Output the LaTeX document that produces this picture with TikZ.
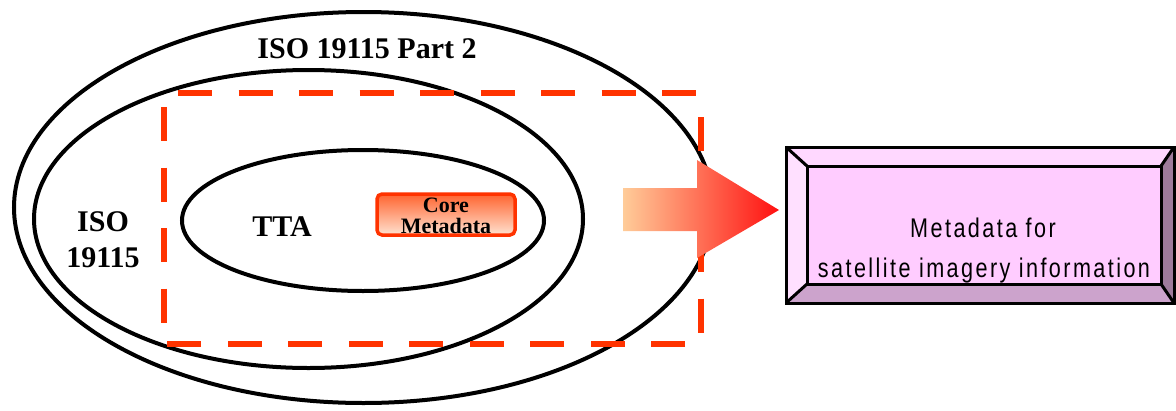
\documentclass[tikz,border=0pt]{standalone}
\usepackage{fontspec}
\setmainfont{Liberation Serif}
\newfontfamily\boxfont[FakeStretch=0.8,LetterSpace=9]{Liberation Sans}
\usetikzlibrary{shapes.geometric}

\definecolor{dashred}{HTML}{FF3300}
\definecolor{coretop}{HTML}{FF6430}
\definecolor{corebot}{HTML}{FFE2D0}
\definecolor{arrowlight}{HTML}{FFCC99}
\definecolor{arrowmid}{HTML}{FF9470}
\definecolor{arrowdark}{HTML}{FF1010}
\definecolor{bevelface}{HTML}{FFCCFF}
\definecolor{beveltop}{HTML}{FFD8FF}
\definecolor{bevelleft}{HTML}{FFE0FF}
\definecolor{bevelbottom}{HTML}{CCA3CC}
\definecolor{bevelright}{HTML}{9E7B9B}

\tikzset{
  ring/.style={ellipse, draw=black, line width=4pt, inner sep=0pt, outer sep=0pt},
  biglabel/.style={font=\fontsize{30}{32}\selectfont\bfseries, inner sep=0pt, anchor=base},
  scopeline/.style={draw=dashred, line width=6.5pt, dash pattern=on 34pt off 26.5pt},
  corebox/.style={rectangle, rounded corners=5pt, draw=dashred, line width=3.5pt,
    top color=coretop, bottom color=corebot, minimum width=138pt, minimum height=41pt},
  coretext/.style={inner sep=0pt, anchor=base, font=\fontsize{22}{22}\selectfont\bfseries},
  bevel/.style={draw=black, line width=3pt, line join=miter},
  boxtext/.style={font=\fontsize{27}{29}\boxfont, inner sep=0pt, anchor=base}
}

\begin{document}
\begin{tikzpicture}[x=1pt, y=-1pt]
  \useasboundingbox (0,0) rectangle (1176,410);

  % nested standards
  \node[ring, minimum width=699pt, minimum height=391pt] (part2) at (363.5,207.5) {};
  \node[ring, minimum width=549pt, minimum height=298pt] (iso) at (308.5,219) {};
  \node[ring, minimum width=362pt, minimum height=141pt] (tta) at (363,220.5) {};

  \node[biglabel] (part2label) at (367,58) {ISO 19115 Part 2};
  \node[biglabel] (isolabelA) at (103,231) {ISO};
  \node[biglabel] (isolabelB) at (103,267) {19115};
  \node[biglabel] (ttalabel) at (282,236) {TTA};

  % core element, two tightly set lines
  \node[corebox] (core) at (446,214.5) {};
  \node[coretext] (coreA) at (446,212) {Core};
  \node[coretext] (coreB) at (446,233) {Metadata};

  % scope of the profile
  \draw[scopeline] (178,93) -- (698,93);
  \draw[scopeline] (701,117) -- (701,333);
  \draw[scopeline] (685,344) -- (165,344);
  \draw[scopeline] (164,107) -- (164,323);

  % block arrow
  \shade[left color=arrowlight, middle color=arrowmid, right color=arrowdark]
    (623,188) -- (697,188) -- (697,160) -- (779,210) -- (697,258) -- (697,231) -- (623,231) -- cycle;

  % bevelled result box
  \node[rectangle, fill=bevelface, minimum width=354pt, minimum height=118pt,
        inner sep=0pt, outer sep=0pt] (face) at (984,225) {};
  \coordinate (oTL) at (786,147);
  \coordinate (oTR) at (1174,147);
  \coordinate (oBR) at (1174,303);
  \coordinate (oBL) at (786,303);
  \fill[beveltop] (oTL) -- (oTR) -- (face.north east) -- (face.north west) -- cycle;
  \fill[bevelright] (oTR) -- (oBR) -- (face.south east) -- (face.north east) -- cycle;
  \fill[bevelbottom] (oBL) -- (oBR) -- (face.south east) -- (face.south west) -- cycle;
  \fill[bevelleft] (oTL) -- (face.north west) -- (face.south west) -- (oBL) -- cycle;
  \draw[bevel] (oTL) rectangle (oBR);
  \draw[bevel] (face.north west) rectangle (face.south east);
  \draw[bevel] (oTL) -- (face.north west);
  \draw[bevel] (oTR) -- (face.north east);
  \draw[bevel] (oBR) -- (face.south east);
  \draw[bevel] (oBL) -- (face.south west);

  \node[boxtext] (resultA) at (983,237) {Metadata for};
  \node[boxtext] (resultB) at (984,277) {satellite imagery information};
\end{tikzpicture}
\end{document}
